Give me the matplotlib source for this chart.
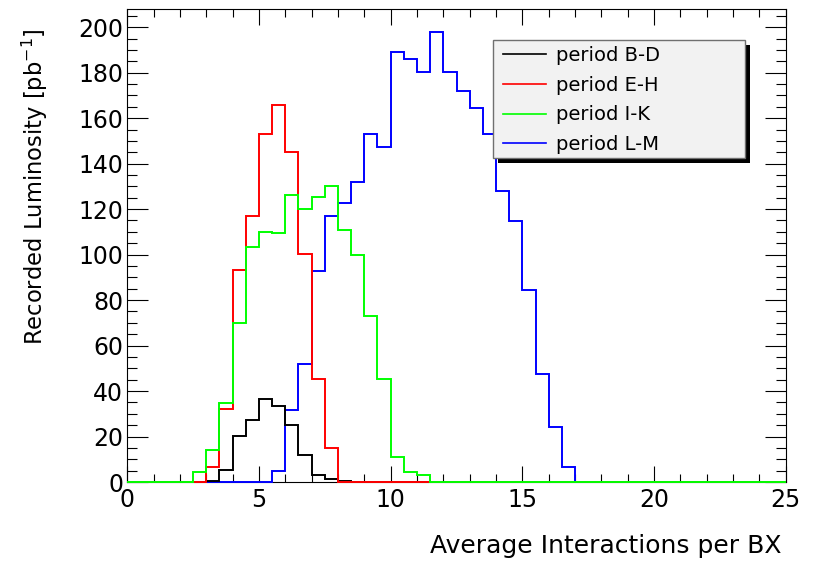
import numpy as np
import matplotlib
matplotlib.use("Agg")
import matplotlib.pyplot as plt
from matplotlib.patches import Rectangle
from matplotlib.ticker import MultipleLocator

# ── Data (recorded luminosity per 0.5-wide bin of <mu>) ──────────────────────
BIN_WIDTH = 0.5
X_MIN, X_MAX = 0.0, 25.0

BD_START = 3.0
BD_VALUES = [0.3, 5.3, 20.2, 27.2, 36.3, 33.4, 24.9, 11.9, 2.9, 1.5, 0.4]

EH_START = 3.0
EH_VALUES = [6.6, 32.2, 93.1, 117.1, 153.2, 165.9, 145.1, 100.4, 45.1, 15.1]

IK_START = 2.5
IK_VALUES = [4.4, 14.1, 34.6, 70.0, 103.2, 110.0, 109.5, 126.1, 120.1, 125.3,
             130.0, 111.0, 100.0, 73.2, 45.1, 11.0, 4.5, 2.9]

LM_START = 5.5
LM_VALUES = [4.9, 31.6, 51.7, 92.7, 116.8, 122.7, 131.8, 153.0, 147.1, 189.0,
             186.1, 180.5, 197.8, 180.5, 172.0, 164.4, 153.0, 128.1, 114.9, 84.6,
             47.3, 24.2, 6.6]

LABELS = ["period B-D", "period E-H", "period I-K", "period L-M"]
COLORS = ["#000000", "#ff0000", "#00ff00", "#0000ff"]

X_LABEL = "Average Interactions per BX"
Y_LABEL = r"Recorded Luminosity [pb$^{\mathregular{-1}}$]"


def full_hist(start, values, edges):
    """Pad a run of bin contents with zeros so it covers the whole axis."""
    h = np.zeros(len(edges) - 1)
    i0 = int(round((start - edges[0]) / BIN_WIDTH))
    h[i0:i0 + len(values)] = values
    return h


def fig_box(px_left, px_top, px_right, px_bottom, W=817, H=563):
    """Pixel box (from top-left) -> figure-fraction (x, y, w, h)."""
    return (px_left / W, 1 - px_bottom / H, (px_right - px_left) / W, (px_bottom - px_top) / H)


plt.rcParams["font.family"] = ["DejaVu Sans"]
plt.rcParams["mathtext.fontset"] = "dejavusans"

edges = np.arange(X_MIN, X_MAX + BIN_WIDTH / 2, BIN_WIDTH)
series = [
    (BD_START, BD_VALUES),
    (EH_START, EH_VALUES),
    (IK_START, IK_VALUES),
    (LM_START, LM_VALUES),
]
# drawing order seen on the baseline: blue, black, red, then green on top
zorders = [3.1, 3.2, 3.3, 3.0]

fig = plt.figure(figsize=(8.17, 5.63), dpi=100)
ax = fig.add_axes(fig_box(127.3, 9, 785.7, 482))

handles = []
for i, (start, vals) in enumerate(series):
    h = full_hist(start, vals, edges)
    ax.stairs(h, edges, color=COLORS[i], linewidth=1.4, zorder=zorders[i], clip_on=False)
    handles.append(plt.Line2D([], [], color=COLORS[i], linewidth=1.2))

ax.set_xlim(X_MIN, X_MAX)
ax.set_ylim(0, 208)

ax.xaxis.set_major_locator(MultipleLocator(5))
ax.xaxis.set_minor_locator(MultipleLocator(1))
ax.yaxis.set_major_locator(MultipleLocator(20))
ax.yaxis.set_minor_locator(MultipleLocator(5))

ax.tick_params(axis="both", which="both", direction="in", top=True, right=True,
               width=0.8, labelsize=17)
ax.tick_params(axis="x", which="major", length=11.2, pad=4)
ax.tick_params(axis="x", which="minor", length=5.8)
ax.tick_params(axis="y", which="major", length=14.8, pad=3)
ax.tick_params(axis="y", which="minor", length=7.2)
for sp in ax.spines.values():
    sp.set_linewidth(0.8)

fig.text(782 / 817, 1 - 553 / 563, X_LABEL, fontsize=18, ha="right", va="baseline")
fig.text(35 / 817, 1 - 28 / 563, Y_LABEL, fontsize=16.3, rotation=90,
         ha="center", va="top")

# ── Legend: fixed-size ROOT-style box with a solid shadow ─────────────────
bx, by, bw, bh = fig_box(493, 40, 745, 158)
sx, sy, _, _ = fig_box(498, 45, 750, 163)
fig.add_artist(Rectangle((sx, sy), bw, bh, transform=fig.transFigure,
                         facecolor="black", edgecolor="none", zorder=9))
fig.add_artist(Rectangle((bx, by), bw, bh, transform=fig.transFigure,
                         facecolor="#f2f2f2", edgecolor="#707070", linewidth=1.0, zorder=9.5))

leg = fig.legend(handles, LABELS, loc="upper left",
                 bbox_to_anchor=(503 / 817, 1 - 46 / 563),
                 bbox_transform=fig.transFigure, fontsize=14,
                 frameon=False, borderaxespad=0, borderpad=0,
                 handlelength=2.2, handletextpad=0.55, labelspacing=0.55)
leg.set_zorder(10)

fig.savefig("out.png", dpi=100)
